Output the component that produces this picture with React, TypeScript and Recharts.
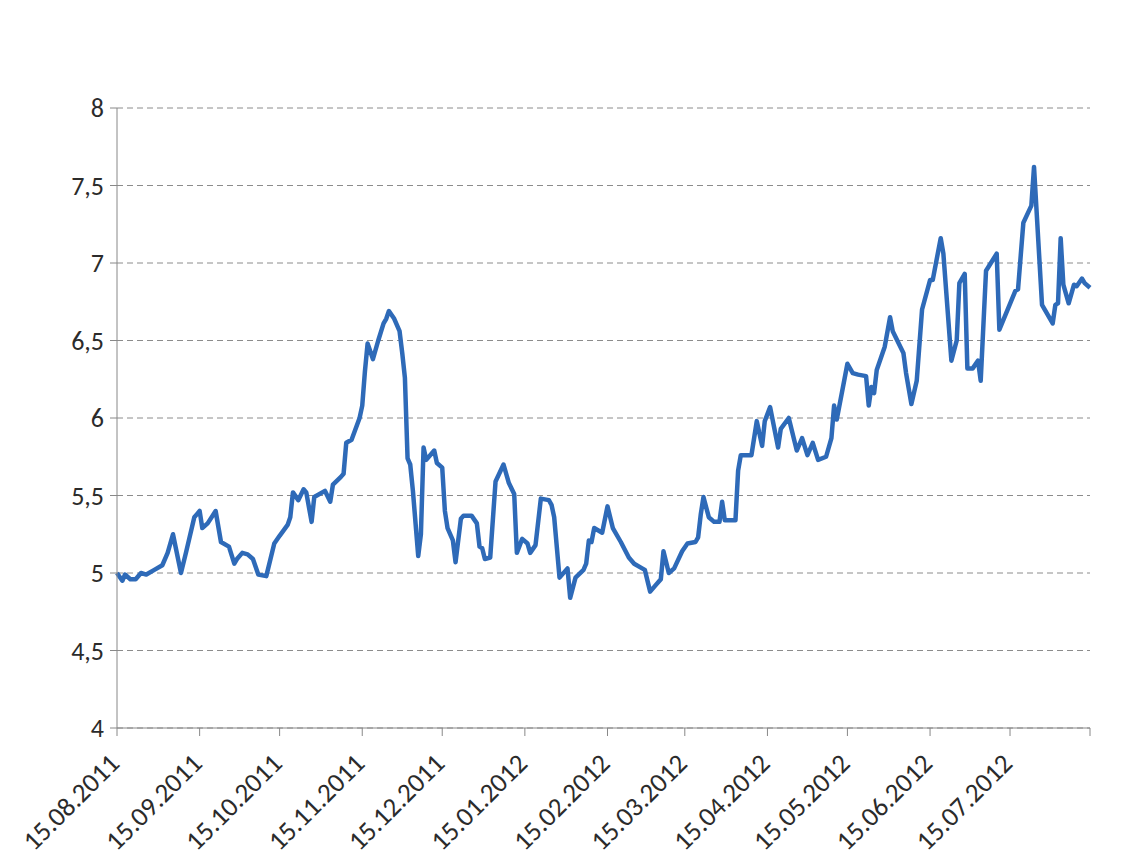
import { LineChart, Line, XAxis, YAxis, CartesianGrid } from "recharts";

const dates = [
  "2011-08-15", "2011-08-17", "2011-08-18", "2011-08-20", "2011-08-22", "2011-08-24", "2011-08-26", "2011-08-29",
  "2011-09-01", "2011-09-03", "2011-09-05", "2011-09-08", "2011-09-10", "2011-09-13", "2011-09-14", "2011-09-15",
  "2011-09-16", "2011-09-18", "2011-09-21", "2011-09-23", "2011-09-26", "2011-09-28", "2011-09-29",
  "2011-10-01", "2011-10-03", "2011-10-05", "2011-10-07", "2011-10-10", "2011-10-13", "2011-10-15", "2011-10-18",
  "2011-10-19", "2011-10-20", "2011-10-22", "2011-10-24", "2011-10-25", "2011-10-27", "2011-10-28",
  "2011-11-01", "2011-11-03", "2011-11-04", "2011-11-07", "2011-11-08", "2011-11-09", "2011-11-11", "2011-11-14",
  "2011-11-15", "2011-11-16", "2011-11-17", "2011-11-19", "2011-11-21", "2011-11-23", "2011-11-24", "2011-11-25",
  "2011-11-27", "2011-11-29", "2011-11-30",
  "2011-12-01", "2011-12-02", "2011-12-03", "2011-12-04", "2011-12-06", "2011-12-07", "2011-12-08", "2011-12-09",
  "2011-12-12", "2011-12-13", "2011-12-15", "2011-12-16", "2011-12-17", "2011-12-19", "2011-12-20", "2011-12-22",
  "2011-12-23", "2011-12-26", "2011-12-28", "2011-12-29", "2011-12-30", "2011-12-31",
  "2012-01-02", "2012-01-04", "2012-01-07", "2012-01-09", "2012-01-11", "2012-01-12", "2012-01-14", "2012-01-16",
  "2012-01-17", "2012-01-19", "2012-01-21", "2012-01-24", "2012-01-25", "2012-01-26", "2012-01-28", "2012-01-31",
  "2012-02-01", "2012-02-03", "2012-02-06", "2012-02-07", "2012-02-08", "2012-02-09", "2012-02-10", "2012-02-13",
  "2012-02-15", "2012-02-17", "2012-02-20", "2012-02-23", "2012-02-25", "2012-02-28", "2012-02-29",
  "2012-03-02", "2012-03-04", "2012-03-06", "2012-03-07", "2012-03-09", "2012-03-11", "2012-03-14", "2012-03-16",
  "2012-03-19", "2012-03-20", "2012-03-21", "2012-03-22", "2012-03-24", "2012-03-26", "2012-03-28", "2012-03-29",
  "2012-03-30",
  "2012-04-03", "2012-04-04", "2012-04-05", "2012-04-09", "2012-04-11", "2012-04-12", "2012-04-13", "2012-04-14",
  "2012-04-16", "2012-04-19", "2012-04-20", "2012-04-23", "2012-04-26", "2012-04-28", "2012-04-30",
  "2012-05-02", "2012-05-04", "2012-05-07", "2012-05-09", "2012-05-10", "2012-05-11", "2012-05-15", "2012-05-17",
  "2012-05-19", "2012-05-22", "2012-05-23", "2012-05-24", "2012-05-25", "2012-05-26", "2012-05-28", "2012-05-29",
  "2012-05-31",
  "2012-06-01", "2012-06-05", "2012-06-06", "2012-06-08", "2012-06-10", "2012-06-12", "2012-06-15", "2012-06-16",
  "2012-06-19", "2012-06-20", "2012-06-23", "2012-06-25", "2012-06-26", "2012-06-28", "2012-06-29",
  "2012-07-01", "2012-07-03", "2012-07-04", "2012-07-06", "2012-07-10", "2012-07-11", "2012-07-17", "2012-07-18",
  "2012-07-20", "2012-07-23", "2012-07-24", "2012-07-27", "2012-07-31",
  "2012-08-01", "2012-08-02", "2012-08-03", "2012-08-04", "2012-08-06", "2012-08-08", "2012-08-09", "2012-08-11",
  "2012-08-12", "2012-08-14",
];

const rates = [
  5.0, 4.95, 4.99, 4.96, 4.96, 5.0, 4.99, 5.02,
  5.05, 5.13, 5.25, 5.0, 5.14, 5.36, 5.38, 5.4,
  5.29, 5.32, 5.4, 5.2, 5.17, 5.06, 5.09,
  5.13, 5.12, 5.09, 4.99, 4.98, 5.19, 5.24, 5.31,
  5.36, 5.52, 5.47, 5.54, 5.52, 5.33, 5.49,
  5.53, 5.46, 5.57, 5.62, 5.64, 5.84, 5.86, 6.0,
  6.08, 6.3, 6.48, 6.38, 6.5, 6.61, 6.64, 6.69,
  6.64, 6.56, 6.42,
  6.26, 5.74, 5.7, 5.53, 5.11, 5.25, 5.81, 5.73,
  5.79, 5.71, 5.68, 5.4, 5.29, 5.21, 5.07, 5.35,
  5.37, 5.37, 5.32, 5.17, 5.16, 5.09,
  5.1, 5.59, 5.7, 5.58, 5.51, 5.13, 5.22, 5.19,
  5.13, 5.18, 5.48, 5.47, 5.44, 5.36, 4.97, 5.03,
  4.84, 4.97, 5.02, 5.06, 5.21, 5.2, 5.29, 5.26,
  5.43, 5.29, 5.2, 5.1, 5.06, 5.03, 5.02,
  4.88, 4.92, 4.96, 5.14, 5.0, 5.03, 5.14, 5.19,
  5.2, 5.23, 5.38, 5.49, 5.36, 5.33, 5.33, 5.46,
  5.34,
  5.34, 5.66, 5.76, 5.76, 5.98, 5.9, 5.82, 5.98,
  6.07, 5.81, 5.93, 6.0, 5.79, 5.87, 5.76,
  5.84, 5.73, 5.75, 5.87, 6.08, 5.99, 6.35, 6.29,
  6.28, 6.27, 6.08, 6.2, 6.16, 6.31, 6.41, 6.46,
  6.65,
  6.56, 6.42, 6.29, 6.09, 6.24, 6.7, 6.89, 6.89,
  7.16, 7.06, 6.37, 6.5, 6.87, 6.93, 6.32,
  6.32, 6.37, 6.24, 6.95, 7.06, 6.57, 6.82, 6.83,
  7.26, 7.37, 7.62, 6.73, 6.61,
  6.73, 6.74, 7.16, 6.86, 6.74, 6.86, 6.85, 6.9,
  6.87, 6.84,
];

const tickDates = [
  "2011-08-15", "2011-09-15", "2011-10-15", "2011-11-15", "2011-12-15", "2012-01-15",
  "2012-02-15", "2012-03-15", "2012-04-15", "2012-05-15", "2012-06-15", "2012-07-15",
];
const axisStart = "2011-08-15";
const axisEnd = "2012-08-14";
const yTicks = [4, 4.5, 5, 5.5, 6, 6.5, 7, 7.5, 8];

const DAY = 86400000;
const toDay = (iso: string) => (Date.parse(iso) - Date.parse(axisStart)) / DAY;
const endDay = toDay(axisEnd);

const data = dates.map((d, i) => ({ t: toDay(d), v: rates[i] }));
const xTicks = [...tickDates.map(toDay), endDay];

const pad = (n: number) => String(n).padStart(2, "0");
const fmtDate = (t: number) => {
  if (t === endDay) return "";
  const d = new Date(Date.parse(axisStart) + t * DAY);
  return `${pad(d.getUTCDate())}.${pad(d.getUTCMonth() + 1)}.${d.getUTCFullYear()}`;
};

const font = "Calibri, Carlito, Lato, sans-serif";
const textColor = "#2b2b2b";
const axisColor = "#888888";

function DateTick(props: any) {
  const { x, y, payload } = props;
  const label = fmtDate(payload.value);
  if (!label) return null;
  const ax = x + 4;
  const ay = y + 29;
  return (
    <text
      x={ax}
      y={ay}
      transform={`rotate(-45, ${ax}, ${ay})`}
      textAnchor="end"
      fill={textColor}
      fontSize={27}
      fontFamily={font}
    >
      {label}
    </text>
  );
}

export default function App() {
  return (
    <div style={{ width: 1136, height: 857, background: "#fff" }}>
      <LineChart width={1136} height={857} data={data} margin={{ top: 100, right: 54, bottom: 7, left: 0 }}>
        <CartesianGrid vertical={false} stroke="#8c8c8c" strokeDasharray="6 4" />
        <XAxis
          dataKey="t"
          type="number"
          domain={[0, endDay]}
          ticks={xTicks}
          interval={0}
          height={130}
          tickSize={8}
          tickMargin={0}
          stroke={axisColor}
          tick={<DateTick />}
        />
        <YAxis
          domain={[4, 8]}
          ticks={yTicks}
          interval={0}
          width={109}
          tickSize={7}
          tickMargin={6}
          stroke={axisColor}
          tick={{ fill: textColor, fontSize: 26, fontFamily: font }}
          tickFormatter={(v: number) => String(v).replace(".", ",")}
        />
        <Line
          type="linear"
          dataKey="v"
          stroke="#2E6AB8"
          strokeWidth={4.5}
          strokeLinejoin="round"
          dot={false}
          isAnimationActive={false}
        />
      </LineChart>
    </div>
  );
}
